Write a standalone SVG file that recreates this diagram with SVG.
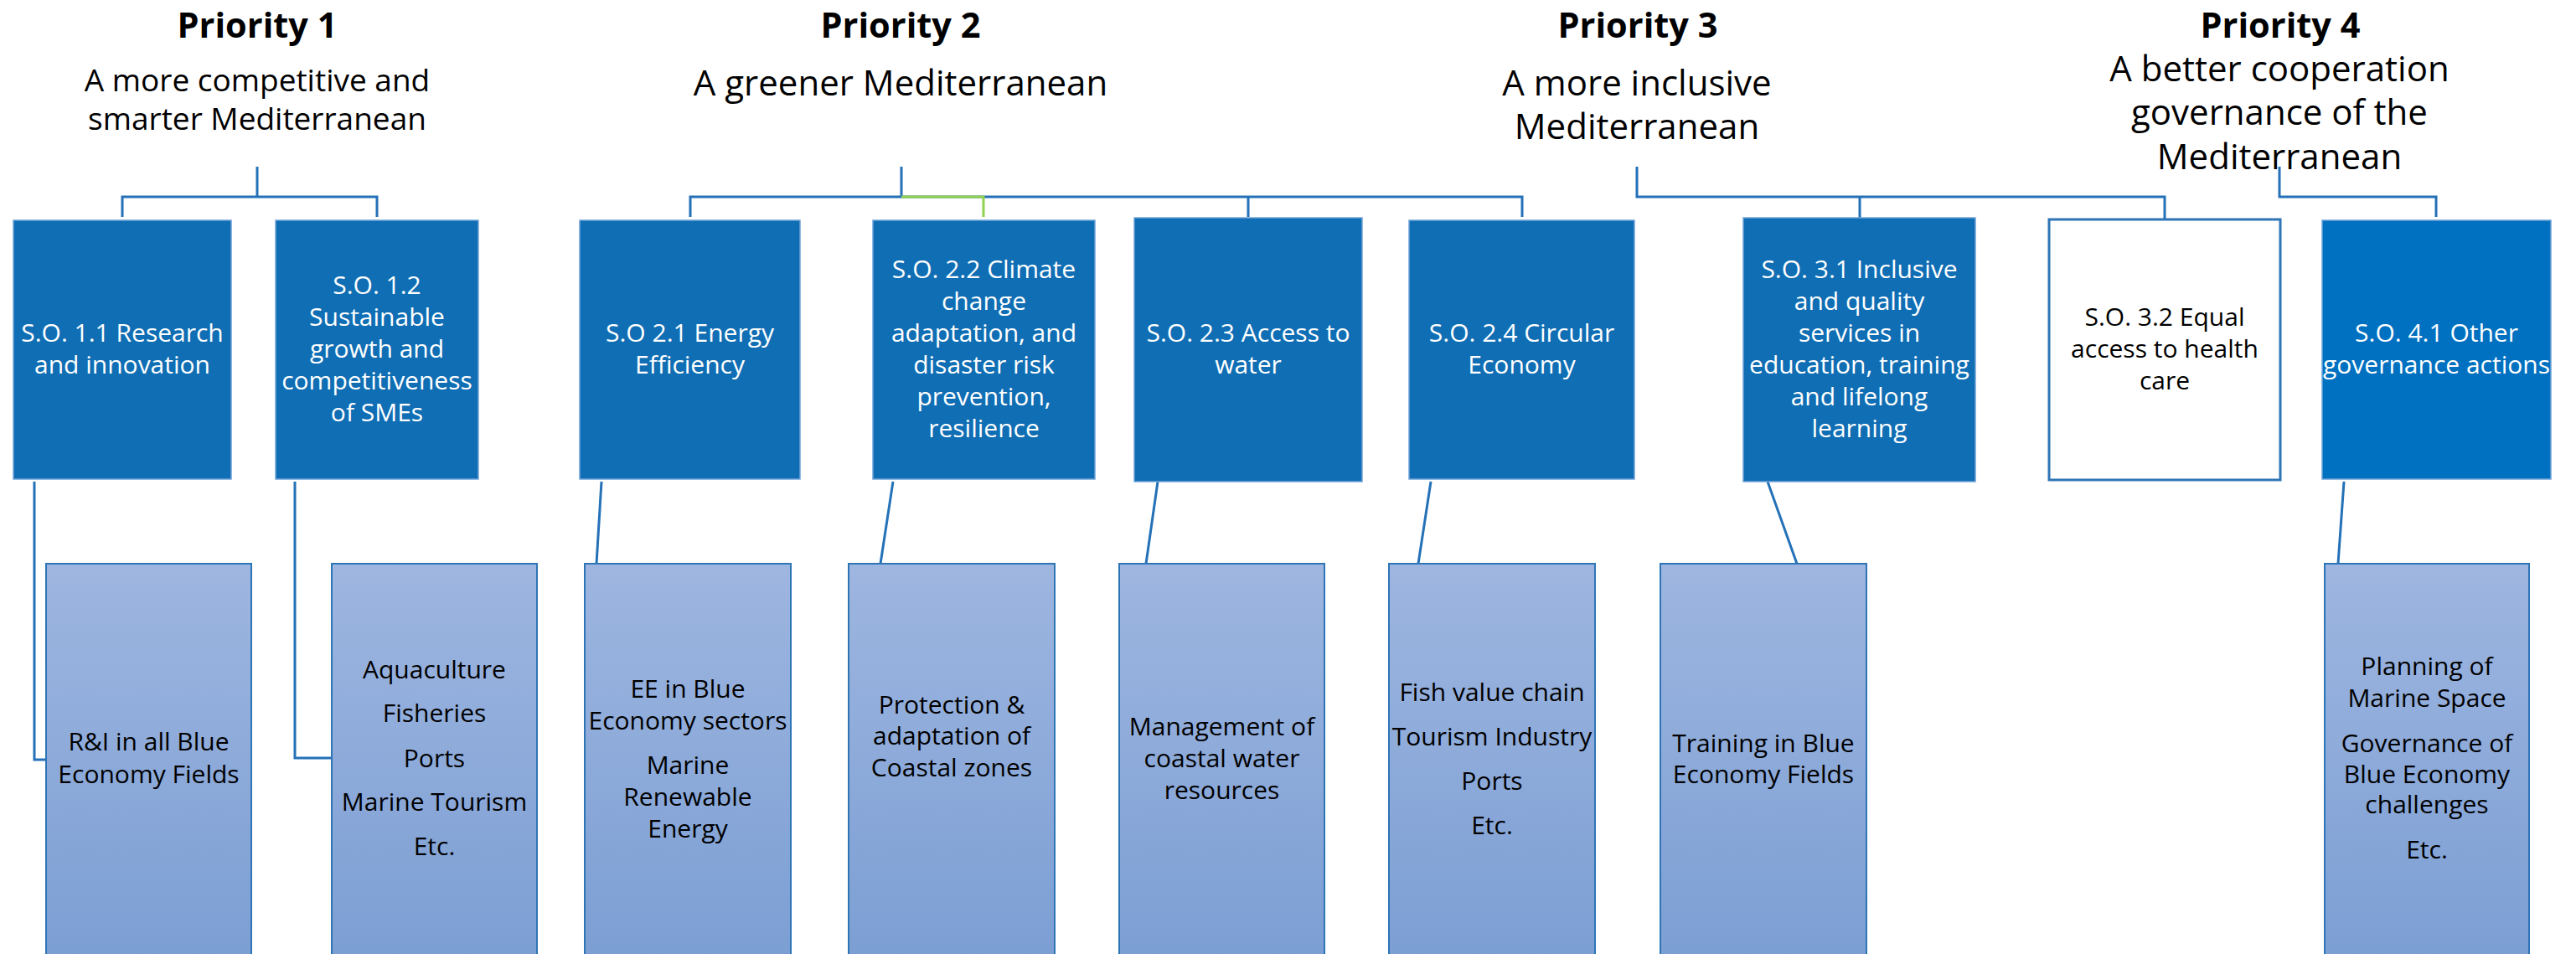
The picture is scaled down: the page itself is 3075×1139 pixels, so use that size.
<svg xmlns="http://www.w3.org/2000/svg" width="3075" height="1139" viewBox="0 0 3075 1139">
<defs>
<linearGradient id="gBot" x1="0" y1="0" x2="0" y2="1">
<stop offset="0" stop-color="#9EB6E0"/>
<stop offset="1" stop-color="#7B9ED3"/>
</linearGradient>
<style>
text{font-family:"Open Sans","Liberation Sans",sans-serif;text-anchor:middle}
.h{font-size:41.5px;font-weight:bold;fill:#000}
.s{font-size:37px;fill:#000}
.sl{font-size:42px;fill:#000}
.t{font-size:30px;fill:#fff}
.tk{font-size:30px;fill:#000}
.b{font-size:30px;fill:#000}
.top{fill:#106EB4;stroke:#6FA3D8;stroke-width:1.5}
.top4{fill:#0070C0;stroke:#6FA3D8;stroke-width:1.5}
.topw{fill:#fff;stroke:#2E75B6;stroke-width:3}
.bot{fill:url(#gBot);stroke:#2E75B6;stroke-width:2}
.c{fill:none;stroke:#2471B8;stroke-width:3}
.cg{fill:none;stroke:#92D050;stroke-width:3}
</style>
</defs>
<rect width="3075" height="1139" fill="#fff"/>

<g id="priorities">
<g id="p1"><text class="h" x="307" y="45">Priority 1</text><text class="s" x="307" y="109">A more competitive and</text><text class="s" x="307" y="155">smarter Mediterranean</text></g>
<g id="p2"><text class="h" x="1075" y="45">Priority 2</text><text class="sl" x="1075" y="114">A greener Mediterranean</text></g>
<g id="p3"><text class="h" x="1955" y="45">Priority 3</text><text class="sl" x="1954" y="114">A more inclusive</text><text class="sl" x="1954" y="166">Mediterranean</text></g>
<g id="p4"><text class="h" x="2722" y="45">Priority 4</text><text class="sl" x="2721" y="97">A better cooperation</text><text class="sl" x="2721" y="149">governance of the</text><text class="sl" x="2721" y="202">Mediterranean</text></g>
</g>

<g id="connectors">
<path class="c" d="M307 199V235M146 259V235H450V259"/>
<path class="c" d="M1076 199V235M824 259V235H1817V259M1490 235V259"/>
<path class="cg" d="M1076 235H1174V259"/>
<path class="c" d="M1954 199V235H2584V262M2220 235V260"/>
<path class="c" d="M2721 199V235H2908V259"/>
<path class="c" d="M41 575V907H55"/>
<path class="c" d="M352 575V905H396"/>
<path class="c" d="M718 575L712 673"/>
<path class="c" d="M1066 575L1051 673"/>
<path class="c" d="M1382 575L1368 673"/>
<path class="c" d="M1708 575L1693 673"/>
<path class="c" d="M2110 575L2145 673"/>
<path class="c" d="M2798 575L2791 673"/>
</g>

<g id="so11"><rect class="top" x="16" y="263" width="260" height="309"/><text class="t" x="146" y="408">S.O. 1.1 Research</text><text class="t" x="146" y="446">and innovation</text></g>
<g id="so12"><rect class="top" x="329" y="263" width="242" height="309"/><text class="t" x="450" y="351">S.O. 1.2</text><text class="t" x="450" y="389">Sustainable</text><text class="t" x="450" y="427">growth and</text><text class="t" x="450" y="465">competitiveness</text><text class="t" x="450" y="503">of SMEs</text></g>
<g id="so21"><rect class="top" x="692" y="263" width="263" height="309"/><text class="t" x="823.5" y="408">S.O 2.1 Energy</text><text class="t" x="823.5" y="446">Efficiency</text></g>
<g id="so22"><rect class="top" x="1042" y="263" width="265" height="309"/><text class="t" x="1174.5" y="332">S.O. 2.2 Climate</text><text class="t" x="1174.5" y="370">change</text><text class="t" x="1174.5" y="408">adaptation, and</text><text class="t" x="1174.5" y="446">disaster risk</text><text class="t" x="1174.5" y="484">prevention,</text><text class="t" x="1174.5" y="522">resilience</text></g>
<g id="so23"><rect class="top" x="1354" y="260" width="272" height="315"/><text class="t" x="1490" y="408">S.O. 2.3 Access to</text><text class="t" x="1490" y="446">water</text></g>
<g id="so24"><rect class="top" x="1682" y="263" width="269" height="309"/><text class="t" x="1816.5" y="408">S.O. 2.4 Circular</text><text class="t" x="1816.5" y="446">Economy</text></g>
<g id="so31"><rect class="top" x="2081" y="260" width="277" height="315"/><text class="t" x="2219.5" y="332">S.O. 3.1 Inclusive</text><text class="t" x="2219.5" y="370">and quality</text><text class="t" x="2219.5" y="408">services in</text><text class="t" x="2219.5" y="446">education, training</text><text class="t" x="2219.5" y="484">and lifelong</text><text class="t" x="2219.5" y="522">learning</text></g>
<g id="so32"><rect class="topw" x="2446" y="262" width="276" height="311"/><text class="tk" x="2584" y="389">S.O. 3.2 Equal</text><text class="tk" x="2584" y="427">access to health</text><text class="tk" x="2584" y="465">care</text></g>
<g id="so41"><rect class="top4" x="2772" y="263" width="273" height="309"/><text class="t" x="2908.5" y="408">S.O. 4.1 Other</text><text class="t" x="2908.5" y="446">governance actions</text></g>

<g id="b1"><rect class="bot" x="55" y="673" width="245" height="480"/><text class="b" x="177.5" y="896">R&amp;I in all Blue</text><text class="b" x="177.5" y="935">Economy Fields</text></g>
<g id="b2"><rect class="bot" x="396" y="673" width="245" height="480"/><text class="b" x="518.5" y="810">Aquaculture</text><text class="b" x="518.5" y="862">Fisheries</text><text class="b" x="518.5" y="916">Ports</text><text class="b" x="518.5" y="968">Marine Tourism</text><text class="b" x="518.5" y="1021">Etc.</text></g>
<g id="b3"><rect class="bot" x="698" y="673" width="246" height="480"/><text class="b" x="821" y="833">EE in Blue</text><text class="b" x="821" y="871">Economy sectors</text><text class="b" x="821" y="924">Marine</text><text class="b" x="821" y="962">Renewable</text><text class="b" x="821" y="1000">Energy</text></g>
<g id="b4"><rect class="bot" x="1013" y="673" width="246" height="480"/><text class="b" x="1136" y="852">Protection &amp;</text><text class="b" x="1136" y="889">adaptation of</text><text class="b" x="1136" y="927">Coastal zones</text></g>
<g id="b5"><rect class="bot" x="1336" y="673" width="245" height="480"/><text class="b" x="1458.5" y="878">Management of</text><text class="b" x="1458.5" y="916">coastal water</text><text class="b" x="1458.5" y="954">resources</text></g>
<g id="b6"><rect class="bot" x="1658" y="673" width="246" height="480"/><text class="b" x="1781" y="837">Fish value chain</text><text class="b" x="1781" y="890">Tourism Industry</text><text class="b" x="1781" y="943">Ports</text><text class="b" x="1781" y="996">Etc.</text></g>
<g id="b7"><rect class="bot" x="1982" y="673" width="246" height="480"/><text class="b" x="2105" y="898">Training in Blue</text><text class="b" x="2105" y="935">Economy Fields</text></g>
<g id="b8"><rect class="bot" x="2775" y="673" width="244" height="480"/><text class="b" x="2897" y="806">Planning of</text><text class="b" x="2897" y="844">Marine Space</text><text class="b" x="2897" y="898">Governance of</text><text class="b" x="2897" y="935">Blue Economy</text><text class="b" x="2897" y="971">challenges</text><text class="b" x="2897" y="1025">Etc.</text></g>
</svg>
